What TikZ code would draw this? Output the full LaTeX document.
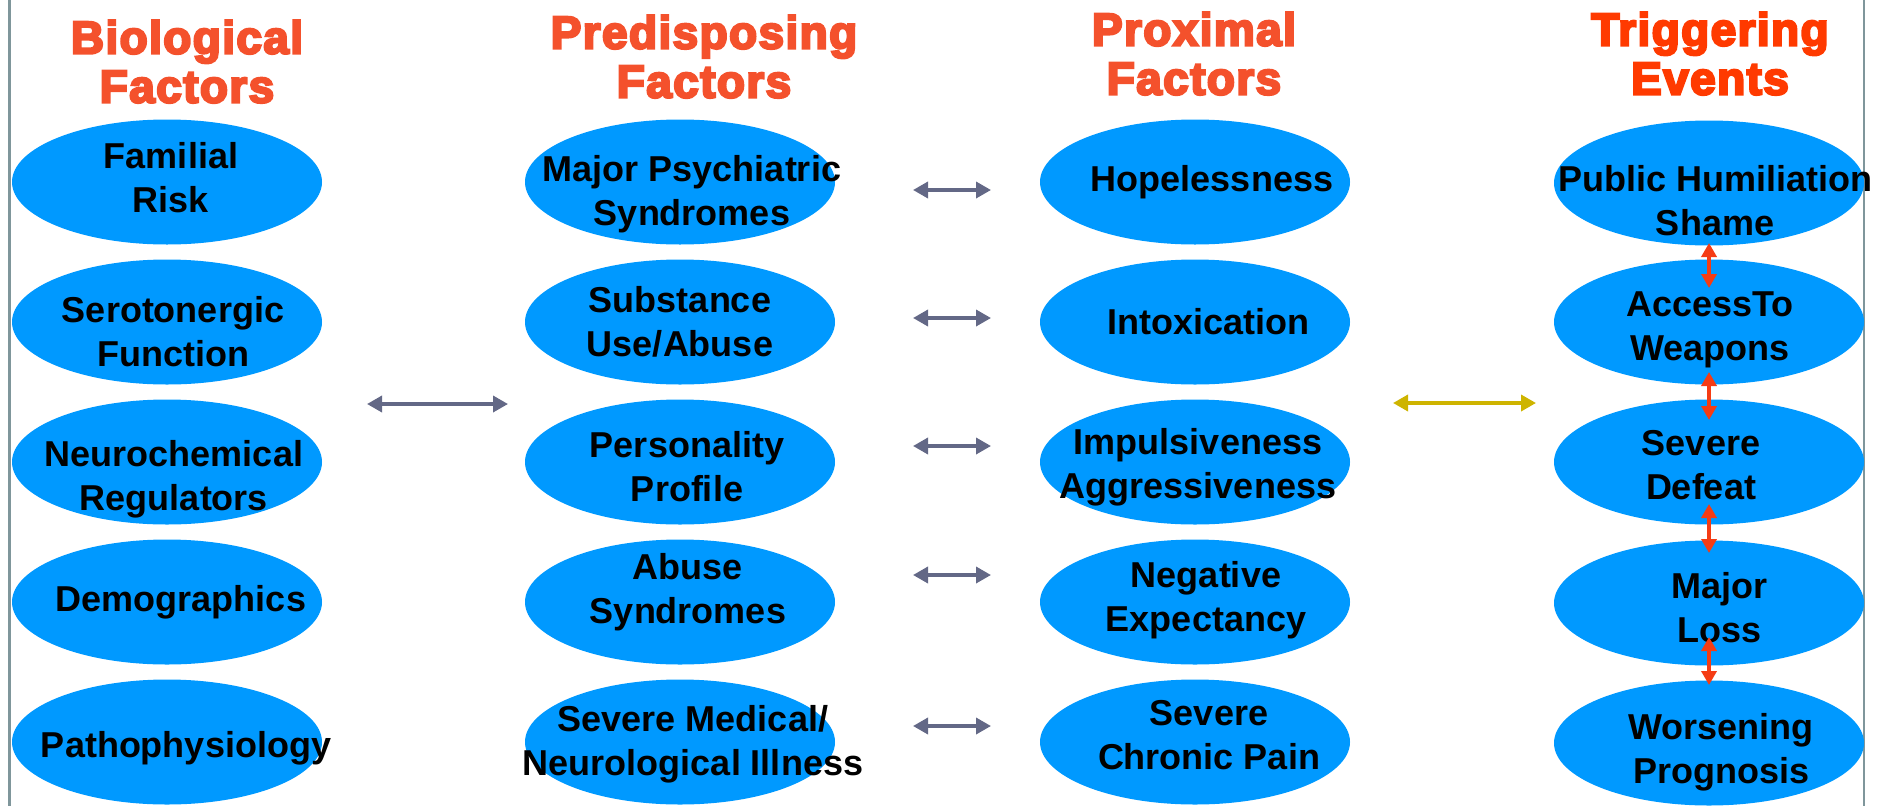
\documentclass[tikz,border=0pt]{standalone}
\usepackage{fontspec}
\setmainfont{Liberation Sans}
\newfontfamily\headfont{Liberation Sans}[BoldFeatures={FakeBold=5},LetterSpace=3]
\usetikzlibrary{shapes.geometric,arrows.meta,calc}

\definecolor{ovalblue}{RGB}{0,153,255}
\definecolor{titleorange}{RGB}{244,81,44}
\definecolor{titlered}{RGB}{255,58,0}
\definecolor{linkgray}{RGB}{99,104,134}
\definecolor{linkyellow}{RGB}{206,180,0}
\definecolor{linkred}{RGB}{245,60,20}
\definecolor{framegray}{RGB}{127,150,155}

\begin{document}
\begin{tikzpicture}[x=1pt,y=-1pt,
	oval/.style={ellipse,fill=ovalblue,minimum width=310pt,minimum height=125pt,inner sep=0pt,outer sep=0pt},
	otext/.style={font=\bfseries\fontsize{36}{44}\selectfont,align=center,inner sep=0pt},
	heading/.style={font=\headfont\bfseries\fontsize{46}{49}\selectfont,align=center,inner sep=0pt,anchor=north,text=titleorange},
	link/.style={line width=3.5pt,color=linkgray,{Triangle[length=15pt,width=16pt]}-{Triangle[length=15pt,width=16pt]}},
	rowlink/.style={link,shorten <=78pt,shorten >=49pt},
	redlink/.style={line width=3.5pt,color=linkred,{Triangle[length=14pt,width=15pt]}-{Triangle[length=14pt,width=15pt]}}]

	\useasboundingbox (0,0) rectangle (1881,806);

	% Draw the frame lines at the sides
	\draw[line width=2.5pt,framegray] (9.5,0) -- (9.5,806);
	\draw[line width=2pt,framegray] (1864,0) -- (1864,806);

	% Draw the column headings
	\node[heading] (hbio) at (187,20) {Biological\\Factors};
	\node[heading] (hpred) at (704,15) {Predisposing\\Factors};
	\node[heading] (hprox) at (1194,12) {Proximal\\Factors};
	\node[heading,text=titlered] (htrig) at (1710,12) {Triggering\\Events};

	% Draw biological factors
	\node[oval,label={[otext,xshift=4pt,yshift=4pt]center:Familial\\Risk}] (bio1) at (167,182) {};
	\node[oval,label={[otext,xshift=6pt,yshift=-10pt]center:Serotonergic\\Function}] (bio2) at (167,322) {};
	\node[oval,label={[otext,xshift=7pt,yshift=-17pt]center:Neurochemical\\Regulators}] (bio3) at (167,462) {};
	\node[oval,label={[otext,xshift=14pt]center:Demographics}] (bio4) at (167,602) {};
	\node[oval,label={[otext,xshift=19pt,yshift=-6pt]center:Pathophysiology}] (bio5) at (167,742) {};

	% Draw predisposing factors
	\node[oval,label={[otext,xshift=12pt,yshift=-12pt]center:Major Psychiatric\\Syndromes}] (pred1) at (680,182) {};
	\node[oval,label={[otext]center:Substance\\Use/Abuse}] (pred2) at (680,322) {};
	\node[oval,label={[otext,xshift=7pt,yshift=-5pt]center:Personality\\Profile}] (pred3) at (680,462) {};
	\node[oval,label={[otext,xshift=8pt,yshift=10pt]center:Abuse\\Syndromes}] (pred4) at (680,602) {};
	\node[oval,label={[otext,xshift=13pt,yshift=-2pt]center:Severe Medical/\\Neurological Illness}] (pred5) at (680,742) {};

	% Draw proximal factors
	\node[oval,label={[otext,xshift=17pt]center:Hopelessness}] (prox1) at (1195,182) {};
	\node[oval,label={[otext,xshift=13pt]center:Intoxication}] (prox2) at (1195,322) {};
	\node[oval,label={[otext,xshift=3pt,yshift=-5pt]center:Impulsiveness\\Aggressiveness}] (prox3) at (1195,462) {};
	\node[oval,label={[otext,xshift=11pt,yshift=2pt]center:Negative\\Expectancy}] (prox4) at (1195,602) {};
	\node[oval,label={[otext,xshift=14pt,yshift=7pt]center:Severe\\Chronic Pain}] (prox5) at (1195,742) {};

	% Draw triggering events
	\node[oval,label={[otext,xshift=6pt,yshift=-18pt]center:Public Humiliation\\Shame}] (trig1) at (1709,183) {};
	\node[oval,label={[otext,xshift=1pt,yshift=-8pt]center:AccessTo\\Weapons}] (trig2) at (1709,322) {};
	\node[oval,label={[otext,xshift=-8pt,yshift=-3pt]center:Severe\\Defeat}] (trig3) at (1709,462) {};
	\node[oval,label={[otext,xshift=10pt,yshift=-5pt]center:Major\\Loss}] (trig4) at (1709,603) {};
	\node[oval,label={[otext,xshift=12pt,yshift=-9pt]center:Worsening\\Prognosis}] (trig5) at (1709,743) {};

	% Draw the arrows between predisposing and proximal factors
	\draw[rowlink] ([yshift=-8pt]pred1.east) -- ([yshift=-8pt]prox1.west);
	\draw[rowlink] ([yshift=4pt]pred2.east) -- ([yshift=4pt]prox2.west);
	\draw[rowlink] ([yshift=16pt]pred3.east) -- ([yshift=16pt]prox3.west);
	\draw[rowlink] ([yshift=27pt]pred4.east) -- ([yshift=27pt]prox4.west);
	\draw[rowlink] ([yshift=16pt]pred5.east) -- ([yshift=16pt]prox5.west);

	% Draw the long arrows between the columns
	\coordinate (bioedge) at (367,404);
	\coordinate (prededge) at (508,404);
	\draw[link] (bioedge) -- (prededge);
	\coordinate (proxedge) at (1393,403);
	\coordinate (trigedge) at (1536,403);
	\draw[link,color=linkyellow] (proxedge) -- (trigedge);

	% Draw the red arrows down the triggering events
	\draw[redlink,shorten <=-2.5pt,shorten >=-28.5pt] (trig1.south) -- (trig2.north);
	\draw[redlink,shorten <=-12.5pt,shorten >=-20.5pt] (trig2.south) -- (trig3.north);
	\draw[redlink,shorten <=-20.5pt,shorten >=-12.5pt] (trig3.south) -- (trig4.north);
	\draw[redlink,shorten <=-28.5pt,shorten >=-4.5pt] (trig4.south) -- (trig5.north);

\end{tikzpicture}
\end{document}
